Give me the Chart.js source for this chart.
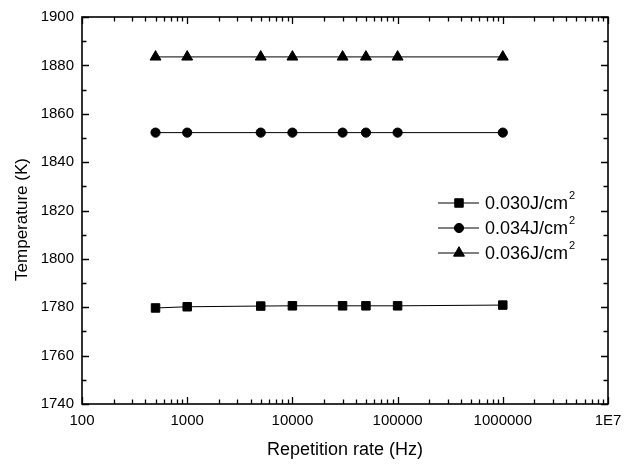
<!DOCTYPE html>
<html>
<head>
<meta charset="utf-8">
<script src="https://cdn.jsdelivr.net/npm/chart.js@4.4.0/dist/chart.umd.min.js"></script>
<style>
	html, body { margin: 0; padding: 0; background: #fff; }
	canvas { display: block; }
</style>
</head>
<body>
<canvas id="chart" width="631" height="464"></canvas>
<script>
// values
let rates = [500, 1000, 5000, 10000, 30000, 50000, 100000, 1000000];
let temp030 = [1779.7, 1780.2, 1780.5, 1780.6, 1780.6, 1780.6, 1780.6, 1780.9];
let temp034 = [1852.2, 1852.2, 1852.2, 1852.2, 1852.2, 1852.2, 1852.2, 1852.2];
let temp036 = [1883.5, 1883.5, 1883.5, 1883.5, 1883.5, 1883.5, 1883.5, 1883.5];
let seriesLabels = ['0.030J/cm²', '0.034J/cm²', '0.036J/cm²'];
let seriesMarkers = ['rect', 'circle', 'triangle'];
let markerRadius = [6, 4.6, 6.3];
let xTickValues = [100, 1000, 10000, 100000, 1000000, 10000000];
let xTickLabels = ['100', '1000', '10000', '100000', '1000000', '1E7'];
let yMin = 1740;
let yMax = 1900;
let yStep = 20;
let yTitle = 'Temperature (K)';

let fontFamily = '"Liberation Sans", Arial, sans-serif';
let ink = '#000';

let series = [temp030, temp034, temp036];

// frame round the plot with inward ticks on all four sides
let frameTicks = {
	id: 'frameTicks',
	afterDraw(chart) {
		let {ctx, chartArea: a, scales: {x, y}} = chart;
		ctx.save();
		ctx.strokeStyle = ink;
		ctx.lineWidth = 1.6;
		ctx.strokeRect(a.left, a.top, a.right - a.left, a.bottom - a.top);
		ctx.lineWidth = 1.3;
		let major = 7;
		let minor = 4.5;
		let xEnd = xTickValues[xTickValues.length - 1];
		ctx.beginPath();
		for (let d = xTickValues[0]; d <= xEnd; d *= 10) {
			for (let k = 1; k <= 9; k++) {
				let v = d * k;
				if (v > xEnd) break;
				let px = Math.round(x.getPixelForValue(v)) + 0.5;
				let len = k === 1 ? major : minor;
				ctx.moveTo(px, a.bottom);
				ctx.lineTo(px, a.bottom - len);
				ctx.moveTo(px, a.top);
				ctx.lineTo(px, a.top + len);
			}
		}
		for (let v = yMin; v <= yMax; v += yStep / 2) {
			let py = Math.round(y.getPixelForValue(v)) + 0.5;
			let len = (v - yMin) % yStep === 0 ? major : minor;
			ctx.moveTo(a.left, py);
			ctx.lineTo(a.left + len, py);
			ctx.moveTo(a.right, py);
			ctx.lineTo(a.right - len, py);
		}
		ctx.stroke();

		// y title sits a little below the middle of the axis in the original
		ctx.translate(22, (a.top + a.bottom) / 2 + 9);
		ctx.rotate(-Math.PI / 2);
		ctx.fillStyle = ink;
		ctx.font = '17px ' + fontFamily;
		ctx.textAlign = 'center';
		ctx.textBaseline = 'middle';
		ctx.fillText(yTitle, 0, 0);
		ctx.restore();
	},
};

// legend inside the plot, with a raised 2 for cm²
let insideLegend = {
	id: 'insideLegend',
	afterDraw(chart) {
		let {ctx} = chart;
		let x0 = 438;
		let y0 = 203;
		let rowGap = 25;
		ctx.save();
		chart.data.datasets.forEach((ds, i) => {
			let yy = y0 + i * rowGap;
			ctx.strokeStyle = ink;
			ctx.fillStyle = ink;
			ctx.lineWidth = 1;
			ctx.beginPath();
			ctx.moveTo(x0, yy);
			ctx.lineTo(x0 + 41, yy);
			ctx.stroke();
			Chart.helpers.drawPoint(ctx, {
				pointStyle: ds.pointStyle,
				radius: ds.pointRadius,
				rotation: 0,
				borderWidth: 1,
			}, x0 + 21, yy);
			let [base] = ds.label.split('²');
			ctx.font = '18px ' + fontFamily;
			ctx.textBaseline = 'middle';
			ctx.textAlign = 'left';
			ctx.fillText(base, x0 + 47, yy + 1);
			let w = ctx.measureText(base).width;
			ctx.font = '11px ' + fontFamily;
			ctx.fillText('2', x0 + 47 + w + 1, yy - 7);
		});
		ctx.restore();
	},
};

new Chart(document.getElementById('chart'), {
	type: 'line',
	data: {
		datasets: series.map((values, i) => ({
			label: seriesLabels[i],
			data: rates.map((r, j) => ({x: r, y: values[j]})),
			borderColor: ink,
			borderWidth: 1,
			backgroundColor: ink,
			pointStyle: seriesMarkers[i],
			pointRadius: markerRadius[i],
			pointBackgroundColor: ink,
			pointBorderColor: ink,
			pointBorderWidth: 1,
			tension: 0,
		})),
	},
	options: {
		responsive: false,
		animation: false,
		devicePixelRatio: 1,
		layout: {
			padding: {top: 14, right: 23, left: 0, bottom: 0},
		},
		plugins: {
			legend: {display: false},
			tooltip: {enabled: false},
		},
		scales: {
			x: {
				type: 'logarithmic',
				min: xTickValues[0],
				max: xTickValues[xTickValues.length - 1],
				afterBuildTicks(scale) {
					scale.ticks = xTickValues.map((v) => ({value: v}));
				},
				afterFit(scale) {
					scale.height = 60;
				},
				grid: {display: false, drawTicks: false},
				border: {display: false},
				ticks: {
					autoSkip: false,
					maxRotation: 0,
					padding: 8,
					color: ink,
					font: {family: fontFamily, size: 15},
					callback: (v, i) => xTickLabels[i],
				},
				title: {
					display: true,
					text: 'Repetition rate (Hz)',
					color: ink,
					font: {family: fontFamily, size: 18},
					padding: {top: 0, bottom: 3},
				},
			},
			y: {
				type: 'linear',
				min: yMin,
				max: yMax,
				afterFit(scale) {
					scale.width = 82;
				},
				grid: {display: false, drawTicks: false},
				border: {display: false},
				ticks: {
					stepSize: yStep,
					padding: 8,
					color: ink,
					font: {family: fontFamily, size: 15},
					callback: (v) => String(v),
				},
			},
		},
	},
	plugins: [frameTicks, insideLegend],
});
</script>
</body>
</html>
